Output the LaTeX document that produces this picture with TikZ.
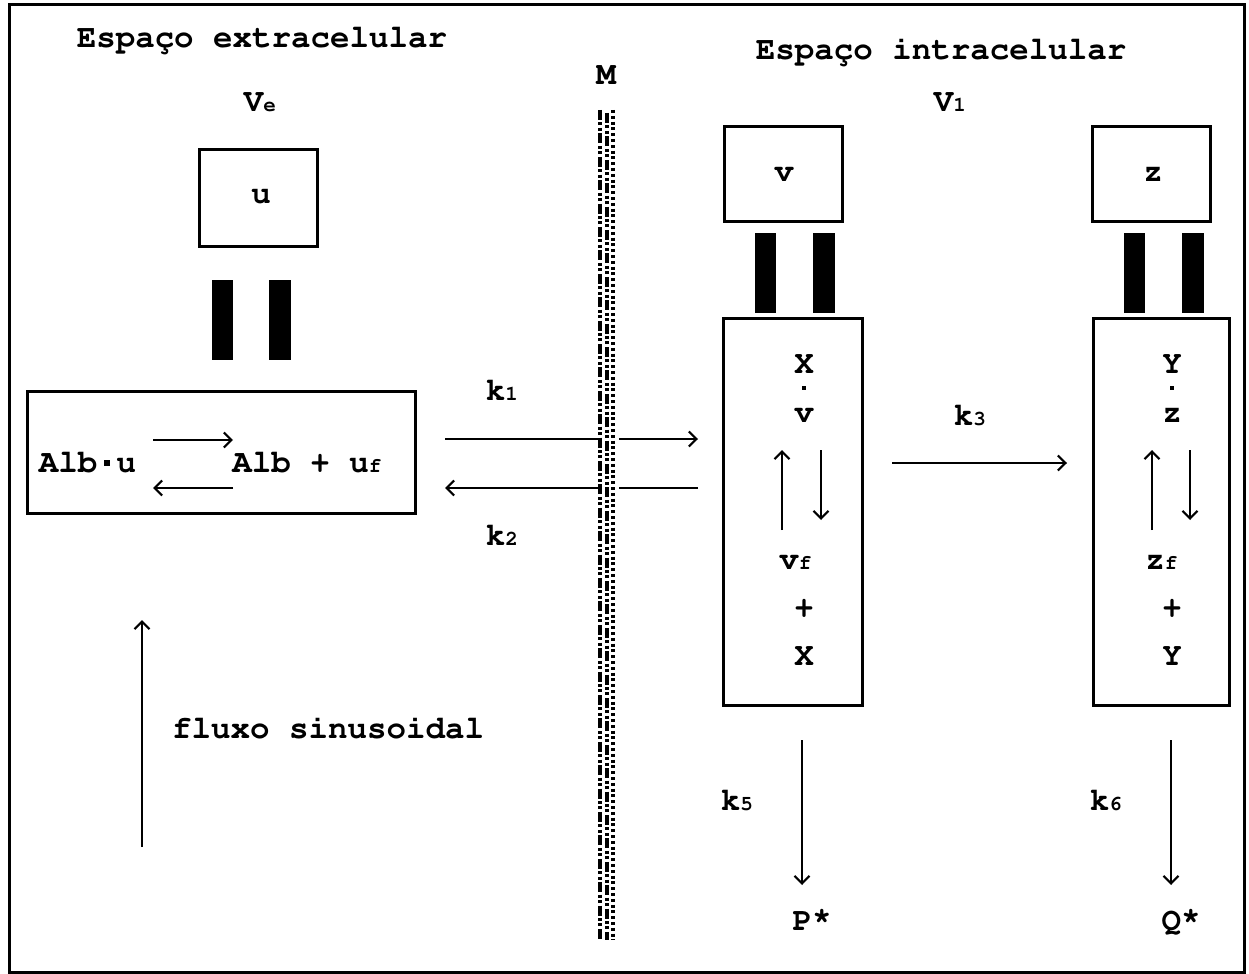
\documentclass[tikz,border=0pt]{standalone}
\usetikzlibrary{arrows.meta}
% bold Courier (T1 encoded) for all labels
\newcommand\cour{\fontencoding{T1}\fontfamily{pcr}\fontseries{b}\fontshape{n}\selectfont}
% small index set on the baseline, as the typewriter subscripts are
\newcommand\lowidx[1]{{\fontsize{10.5}{11}\selectfont #1}}
% raised square dot that fills one character cell
\newcommand\sqdot{\makebox[0.6em]{\raisebox{0.2em}{\rule{0.16em}{0.16em}}}}
% raised asterisk
\newcommand\hstar{\raisebox{0.18em}{*}}
\begin{document}
\begin{tikzpicture}[x=0.5pt,y=-0.5pt,
  every node/.style={font=\cour\fontsize{16.25}{19}\selectfont, inner sep=0pt},
  lbl/.style={anchor=base},
  boxed/.style={draw, line width=1.5pt, inner sep=0pt},
  thinline/.style={line width=1.1pt},
  arr/.style={thinline, -{Straight Barb[length=3.8pt,width=7.5pt,line width=1.1pt]}},
  bar/.style={fill=black},
  dotmark/.style={fill=black, minimum width=2pt, minimum height=1.6pt},
  memA/.style={line width=1.7pt, dash pattern=on 5pt off 1.2pt on 1.5pt off 1.2pt on 1.5pt off 1.3pt},
  memB/.style={line width=1.7pt, dash pattern=on 1.5pt off 1.4pt}]
\useasboundingbox (0,0) rectangle (1249,974);
\draw[line width=1.5pt] (9,5) rectangle (1244,972);

% headings
\node[lbl] (tE) at (262,48) {Espa\c{c}o extracelular};
\node[lbl] (tI) at (941,60) {Espa\c{c}o intracelular};
\node[lbl] (Ve) at (260,112) {V\lowidx{e}};
\node[lbl] (Vi) at (950,112) {V\lowidx{1}};
\node[lbl] (M) at (606,85) {M};

% membrane
\draw[memA] (600,110) -- (600,940);
\draw[memA] (607,113) -- (607,940);
\draw[memB] (613,110) -- (613,940);

% extracellular compartment
\node[boxed, minimum width=59pt, minimum height=48.5pt] (ubox) at (258,198.5) {};
\node[lbl] (u) at (261,204) {u};
\fill[bar] (212,280) rectangle (233,360);
\fill[bar] (269,280) rectangle (291,360);
\node[boxed, minimum width=194pt, minimum height=61pt] (albbox) at (221,452) {};
\node[lbl] (albu) at (87.5,472) {Alb\sqdot u};
\node[lbl, anchor=base west] (albuf) at (232,472) {Alb + u\lowidx{f}};
\coordinate (ra1) at (153,440); \coordinate (ra2) at (233,440);
\coordinate (la1) at (233,488); \coordinate (la2) at (153,488);
\draw[arr] (ra1) -- (ra2);
\draw[arr] (la1) -- (la2);

\coordinate (fl1) at (142,847); \coordinate (fl2) at (142,620);
\draw[arr] (fl1) -- (fl2);
\node[lbl] (fluxo) at (328,738) {fluxo sinusoidal};

% transport across the membrane
\node[lbl] (k1) at (502,400) {k\lowidx{1}};
\node[lbl] (k2) at (502,545) {k\lowidx{2}};
\coordinate (k1a) at (445,439); \coordinate (k1b) at (600,439);
\coordinate (k1c) at (619,439); \coordinate (k1d) at (698,439);
\draw[thinline] (k1a) -- (k1b);
\draw[arr] (k1c) -- (k1d);
\coordinate (k2a) at (698,488); \coordinate (k2b) at (619,488);
\coordinate (k2c) at (600,488); \coordinate (k2d) at (445,488);
\draw[thinline] (k2a) -- (k2b);
\draw[arr] (k2c) -- (k2d);

% intracellular compartment: v
\node[boxed, minimum width=59pt, minimum height=47.5pt] (vbox) at (783,174.5) {};
\node[lbl] (v) at (784,182) {v};
\fill[bar] (755,233) rectangle (776,313);
\fill[bar] (813,233) rectangle (835,313);
\node[boxed, minimum width=69.5pt, minimum height=193.5pt] (vcol) at (792.5,511.5) {};
\node[lbl] (X1) at (804,373) {X};
\node[dotmark] (d1) at (804,388) {};
\node[lbl] (v1) at (804,422) {v};
\coordinate (vu1) at (782,530); \coordinate (vu2) at (782,450);
\coordinate (vd1) at (821,450); \coordinate (vd2) at (821,520);
\draw[arr] (vu1) -- (vu2);
\draw[arr] (vd1) -- (vd2);
\node[lbl, anchor=base west] (vf) at (779,569) {v\lowidx{f}};
\node[lbl] (p1) at (804,617) {+};
\node[lbl] (X2) at (804,665) {X};

% intracellular compartment: z
\node[boxed, minimum width=59pt, minimum height=47.5pt] (zbox) at (1151,174.5) {};
\node[lbl] (z) at (1153,182) {z};
\fill[bar] (1124,233) rectangle (1145,313);
\fill[bar] (1182,233) rectangle (1204,313);
\node[boxed, minimum width=68pt, minimum height=193.5pt] (zcol) at (1161,511.5) {};
\node[lbl] (Y1) at (1172,373) {Y};
\node[dotmark] (d2) at (1172,388) {};
\node[lbl] (z1) at (1172,422) {z};
\coordinate (zu1) at (1152,530); \coordinate (zu2) at (1152,450);
\coordinate (zd1) at (1190,450); \coordinate (zd2) at (1190,520);
\draw[arr] (zu1) -- (zu2);
\draw[arr] (zd1) -- (zd2);
\node[lbl, anchor=base west] (zf) at (1145,569) {z\lowidx{f}};
\node[lbl] (p2) at (1172,617) {+};
\node[lbl] (Y2) at (1172,665) {Y};

% conversion v -> z
\node[lbl] (k3) at (970,425) {k\lowidx{3}};
\coordinate (k3a) at (892,463); \coordinate (k3b) at (1067,463);
\draw[arr] (k3a) -- (k3b);

% elimination
\node[lbl] (k5) at (737,810) {k\lowidx{5}};
\coordinate (k5a) at (802,740); \coordinate (k5b) at (802,885);
\draw[arr] (k5a) -- (k5b);
\node[lbl] (P) at (812,930) {P\hstar};
\node[lbl] (k6) at (1106,810) {k\lowidx{6}};
\coordinate (k6a) at (1171,740); \coordinate (k6b) at (1171,885);
\draw[arr] (k6a) -- (k6b);
\node[lbl] (Q) at (1181,930) {Q\hstar};
\end{tikzpicture}
\end{document}
